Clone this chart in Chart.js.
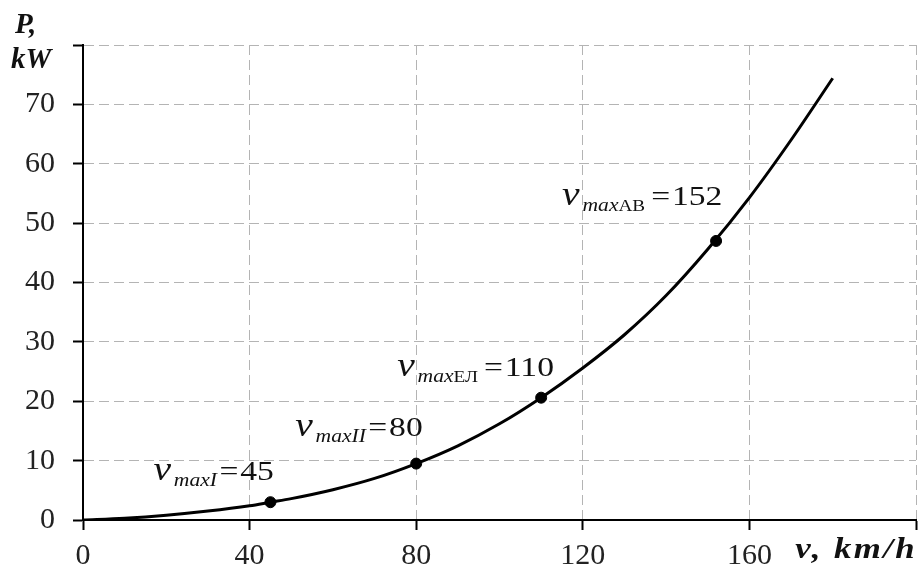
<!DOCTYPE html>
<html>
<head>
<meta charset="utf-8">
<script src="https://cdn.jsdelivr.net/npm/chart.js@4.4.1/dist/chart.umd.min.js"></script>
<style>
  body { margin: 0; background: #fff; }
  canvas { display: block; }
</style>
</head>
<body>
<canvas id="chart" width="919" height="570"></canvas>
<script>
// curve: speed (km/h) -> power (kW)
const speeds = [0, 10, 20, 30, 40, 45, 50, 60, 70, 80, 90, 100, 110, 120, 130, 140, 150, 160, 170, 180];
const powers = [0, 0.3, 0.8, 1.5, 2.4, 3.0, 3.6, 5.1, 7.0, 9.5, 12.5, 16.2, 20.6, 25.6, 31.2, 37.8, 45.6, 54.3, 64.0, 74.4];

// marked maximum speeds
const markSpeeds = [45, 80, 110, 152];
const markPowers = [3.0, 9.5, 20.6, 47.0];
const markSubs = ["maxI", "maxII", "maxЕЛ", "maxАВ"];

const xTicks = [0, 40, 80, 120, 160, 200];
const yTicks = [0, 10, 20, 30, 40, 50, 60, 70, 80];

// label placement relative to its marker, px
const labelOffsets = [[-117, -22], [-121, -28], [-144, -22], [-154, -36]];

const serif = '"Liberation Serif", "Times New Roman", serif';
const stretch = 1.2; // the source text is drawn a bit wide

const labelsPlugin = {
  id: "labels",
  afterDraw(chart) {
    const ctx = chart.ctx;
    const xs = chart.scales.x, ys = chart.scales.y;
    ctx.save();
    ctx.fillStyle = "#111";
    ctx.textBaseline = "alphabetic";
    ctx.textAlign = "left";

    markSpeeds.forEach((v, i) => {
      const x0 = xs.getPixelForValue(v) + labelOffsets[i][0];
      const base = ys.getPixelForValue(markPowers[i]) + labelOffsets[i][1];
      ctx.save();
      ctx.translate(x0, base);
      ctx.scale(stretch, 1);
      let x = 0;
      ctx.font = "italic 33px " + serif;
      ctx.fillText("v", x, 0);
      x += 17;
      const sub = markSubs[i];
      const head = sub.slice(0, 3), tail = sub.slice(3);
      ctx.font = "italic 18px " + serif;
      ctx.fillText(head, x, 6);
      x += ctx.measureText(head).width;
      const upright = /[ЕЛАВ]/.test(tail);
      ctx.font = upright ? "16px " + serif : "italic 18px " + serif;
      ctx.fillText(tail, x, 6);
      x += ctx.measureText(tail).width + (upright ? 5 : 2);
      ctx.font = "28px " + serif;
      ctx.fillText("=", x, 0);
      x += ctx.measureText("=").width + 1.5;
      ctx.fillText(String(v), x, 0);
      ctx.restore();
    });

    // axis titles
    ctx.font = "bold italic 29px " + serif;
    ctx.fillText("P,", 15, 33);
    ctx.fillText("kW", 11, 68);
    ctx.translate(917, 558);
    ctx.scale(stretch, 1);
    ctx.textAlign = "right";
    ctx.letterSpacing = "2px";
    ctx.fillText("v, km/h", 0, 0);
    ctx.restore();
  }
};

const gridCommon = {
  color: "#b4b4b4",
  lineWidth: 1,
  tickColor: "#000",
  tickWidth: 2,
  tickLength: 10,
  tickBorderDash: []
};

new Chart(document.getElementById("chart"), {
  type: "scatter",
  data: {
    datasets: [
      {
        data: speeds.map((s, i) => ({ x: s, y: powers[i] })),
        showLine: true,
        borderColor: "#000",
        borderWidth: 3,
        pointRadius: 0,
        cubicInterpolationMode: "monotone"
      },
      {
        data: markSpeeds.map((s, i) => ({ x: s, y: markPowers[i] })),
        showLine: false,
        pointRadius: 5.5,
        backgroundColor: "#000",
        borderColor: "#000"
      }
    ]
  },
  options: {
    responsive: false,
    animation: false,
    layout: { autoPadding: false, padding: { top: 45, right: 3, left: 0, bottom: 0 } },
    plugins: { legend: { display: false }, tooltip: { enabled: false } },
    scales: {
      x: {
        type: "linear",
        min: 0,
        max: 200,
        afterBuildTicks: s => { s.ticks = xTicks.map(v => ({ value: v })); },
        afterFit: s => { s.height = 50; s.paddingLeft = 0; s.paddingRight = 0; },
        ticks: {
          color: "#222",
          font: { family: serif, size: 30 },
          padding: 8,
          maxRotation: 0,
          callback: v => (v === 200 ? "" : v)
        },
        grid: gridCommon,
        border: { color: "#000", width: 2, dash: [10, 5] }
      },
      y: {
        min: 0,
        max: 80,
        afterBuildTicks: s => { s.ticks = yTicks.map(v => ({ value: v })); },
        afterFit: s => { s.width = 83; s.paddingTop = 0; s.paddingBottom = 0; },
        ticks: {
          color: "#222",
          font: { family: serif, size: 30 },
          padding: 18,
          callback: v => (v === 80 ? "" : v)
        },
        grid: gridCommon,
        border: { color: "#000", width: 2, dash: [10, 5] }
      }
    }
  },
  plugins: [labelsPlugin]
});
</script>
</body>
</html>
